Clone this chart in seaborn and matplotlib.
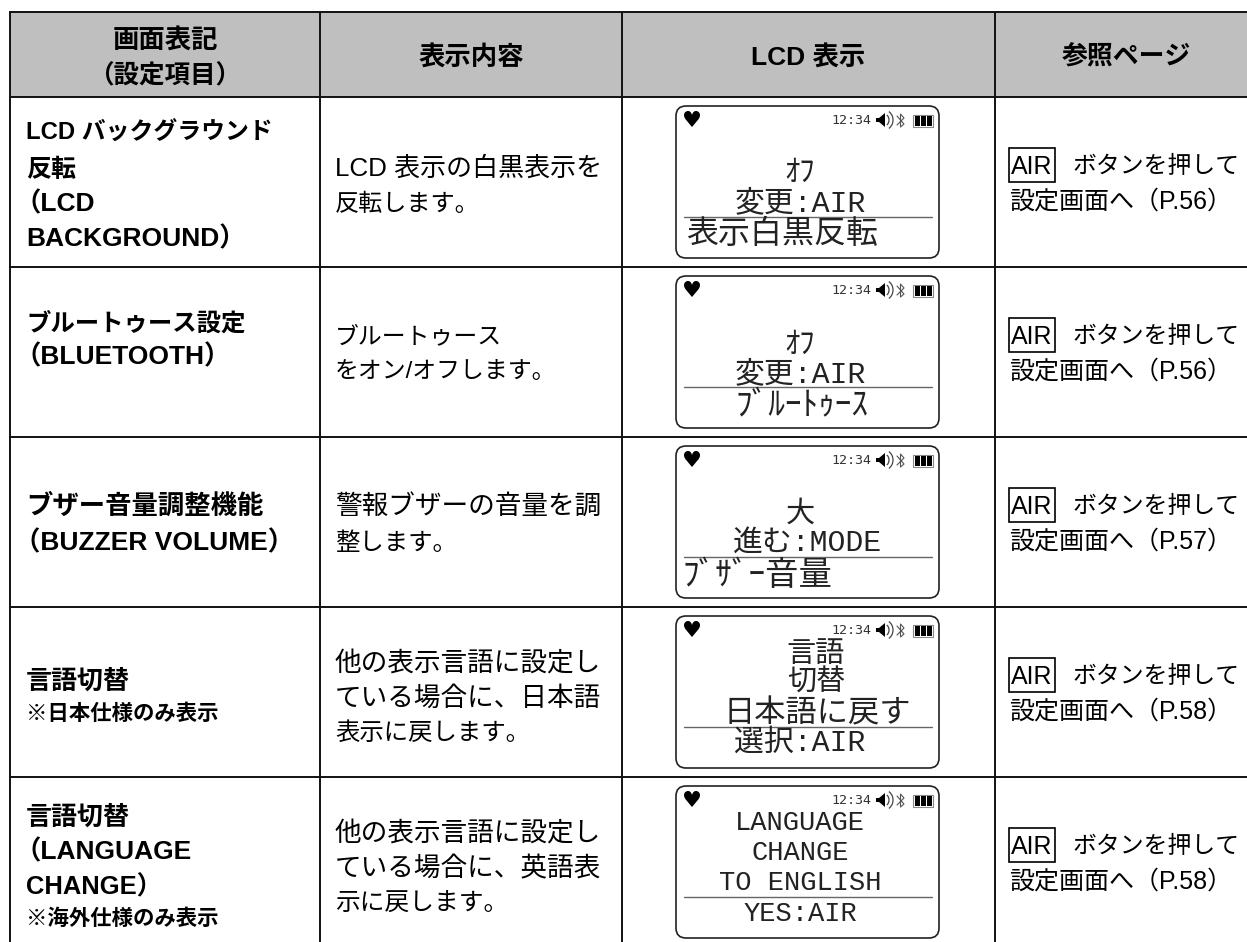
import matplotlib
matplotlib.use("Agg")
import matplotlib.pyplot as plt
from matplotlib.patches import Arc, FancyBboxPatch, Polygon, Rectangle
import seaborn as sns

sns.set_style("white")
SANS = ["Liberation Sans", "Noto Sans CJK JP"]
LCD = ["Liberation Mono", "Noto Sans CJK JP"]
plt.rcParams["font.family"] = SANS

# table text
HEADERS = [["画面表記", "（設定項目）"], ["表示内容"], ["LCD 表示"], ["参照ページ"]]
NAMES = [
    ["LCD バックグラウンド", "反転", "（LCD", "BACKGROUND）"],
    ["ブルートゥース設定", "（BLUETOOTH）"],
    ["ブザー音量調整機能", "（BUZZER VOLUME）"],
    ["言語切替", "※日本仕様のみ表示"],
    ["言語切替", "（LANGUAGE", "CHANGE）", "※海外仕様のみ表示"],
]
DESCRIPTIONS = [
    ["LCD 表示の白黒表示を", "反転します。"],
    ["ブルートゥース", "をオン/オフします。"],
    ["警報ブザーの音量を調", "整します。"],
    ["他の表示言語に設定し", "ている場合に、日本語", "表示に戻します。"],
    ["他の表示言語に設定し", "ている場合に、英語表", "示に戻します。"],
]
LCD_LINES = [
    ["ｵﾌ", "変更:AIR", "表示白黒反転"],
    ["ｵﾌ", "変更:AIR", "ﾌﾞﾙｰﾄｩｰｽ"],
    ["大", "進む:MODE", "ﾌﾞｻﾞｰ音量"],
    ["言語", "切替", "日本語に戻す", "選択:AIR"],
    ["LANGUAGE", "CHANGE", "TO ENGLISH", "YES:AIR"],
]
LCD_CLOCK = "12:34"
BUTTON = "AIR"
BUTTON_NOTE = "ボタンを押して"
PAGES = ["設定画面へ（P.56）", "設定画面へ（P.56）", "設定画面へ（P.57）", "設定画面へ（P.58）", "設定画面へ（P.58）"]

# layout, in pixels of the page
W, H = 1247, 942
COL_X = [9.5, 320, 622, 994.5]
ROW_Y = [12, 96.7, 266.7, 436.7, 606.7, 776.7]
ROW_H = 170
TEXT_DY = 2  # va="center" sits a little high with the CJK font
HEADER_X = [165, 471, 808, 1126]
HEADER_Y = [[38, 74], [55], [55], [55]]
HEADER_SIZE = [[19, 18.4], [19], [19], [18.6]]
NAME_Y = [[131, 168, 202, 237], [322, 355], [504, 541], [679, 712], [815, 850, 885, 917]]
NAME_X = [[26, 26, 14, 26], [26, 14], [26, 14], [26, 26], [26, 14, 26, 26]]
NAME_SIZE = [[17.2, 18, 19, 19], [17.6, 19], [19, 19], [18.7, 15.4], [18.7, 19, 18.4, 15.4]]
DESC_Y = [[167, 203], [335, 370], [505, 542], [662, 697, 732], [832, 867, 902]]
DESC_SIZE = [[18.7, 17.4], [17.2, 17.2], [19.2, 17.6], [19.2, 19.2, 17.6], [19.2, 19.2, 17.8]]
LCD_CX = [[800, 800, 782], [800, 800, 802], [800, 807, 757], [816, 816, 817, 800], [800, 800, 800, 800]]
LCD_Y = [[171, 201, 233], [343, 372, 405], [512, 541, 574], [652, 681, 712, 741], [821, 851, 881, 912]]
LCD_SIZE = [[22, 21.5, 23], [22, 21.5, 24], [21, 21.5, 24], [21, 21, 22.5, 21.5], [19.5, 19.5, 19.5, 19.5]]
LINE_C = "#111111"


def draw_status(ax, dy):
    # heart, clock, speaker, bluetooth and battery on the LCD top row
    ax.text(692, 121 + dy, "♥", family="DejaVu Sans", fontsize=16, ha="center", va="center", color="black")
    ax.text(851.5, 120.5 + dy, LCD_CLOCK, family="DejaVu Sans Mono", fontsize=9.6, ha="center", va="center",
            color="#333333")
    ax.add_patch(Polygon([(876, 118 + dy), (879, 118 + dy), (885, 113 + dy), (885, 127 + dy), (879, 122 + dy),
                          (876, 122 + dy)], color="black", lw=0))
    for d in (5, 9):
        ax.add_patch(Arc((884, 120 + dy), d * 2, d * 2 + 2, theta1=-60, theta2=60, color="#444444", lw=0.9))
    ax.plot([897, 904, 900.5, 900.5, 904, 897], [116 + dy, 124 + dy, 127 + dy, 114 + dy, 118 + dy, 125 + dy],
            color="#555555", lw=0.8)
    ax.add_patch(Rectangle((912.5, 114.5 + dy), 20.5, 12, fill=False, ec="#888888", lw=0.8))
    for bx in (915, 921, 927):
        ax.add_patch(Rectangle((bx, 115.5 + dy), 5, 10, color="black", lw=0))


def draw_lcd(ax, i):
    dy = i * ROW_H
    ax.add_patch(FancyBboxPatch((676 + 10, 106 + dy + 10), 263 - 20, 152 - 20, boxstyle="round,pad=10,rounding_size=10",
                                fc="white", ec="#222222", lw=1.2))
    ax.plot([684, 932], [217 + dy, 217 + dy], color="#666666", lw=1.0)
    draw_status(ax, dy)
    for line, cx, y, size in zip(LCD_LINES[i], LCD_CX[i], LCD_Y[i], LCD_SIZE[i]):
        ax.text(cx, y + TEXT_DY, line, family=LCD, fontsize=size, ha="center", va="center", color="#222222")


def main():
    fig, ax = plt.subplots(figsize=(W / 100, H / 100), dpi=100)
    fig.subplots_adjust(0, 0, 1, 1)
    ax.set_xlim(0, W)
    ax.set_ylim(H, 0)
    ax.axis("off")

    ax.add_patch(Rectangle((COL_X[0], ROW_Y[0]), W - COL_X[0], ROW_Y[1] - ROW_Y[0], color="#bfbfbf", lw=0))
    ax.hlines(ROW_Y, COL_X[0] - 1, W, color=LINE_C, lw=1.4)
    ax.vlines(COL_X, ROW_Y[0], H, color=LINE_C, lw=1.4)

    for lines, x, ys, sizes in zip(HEADERS, HEADER_X, HEADER_Y, HEADER_SIZE):
        for line, y, size in zip(lines, ys, sizes):
            ax.text(x, y + TEXT_DY, line, fontsize=size, weight="bold", ha="center", va="center", color="black")

    for i in range(5):
        for line, x, y, size in zip(NAMES[i], NAME_X[i], NAME_Y[i], NAME_SIZE[i]):
            ax.text(x, y + TEXT_DY, line, fontsize=size, weight="bold", ha="left", va="center", color="black")
        for line, y, size in zip(DESCRIPTIONS[i], DESC_Y[i], DESC_SIZE[i]):
            ax.text(335, y + TEXT_DY, line, fontsize=size, ha="left", va="center", color="black")
        draw_lcd(ax, i)

        dy = i * ROW_H
        ax.add_patch(Rectangle((1009, 148 + dy), 46, 34, fill=False, ec="black", lw=1.2))
        ax.text(1011, 165 + dy + TEXT_DY, BUTTON, fontsize=18, ha="left", va="center", color="black")
        ax.text(1072, 165 + dy + TEXT_DY, BUTTON_NOTE, fontsize=17.2, ha="left", va="center", color="black")
        ax.text(1009, 200 + dy + TEXT_DY, PAGES[i], fontsize=18, ha="left", va="center", color="black")

    fig.savefig("out.png", dpi=100)
    plt.close(fig)


if __name__ == "__main__":
    main()
